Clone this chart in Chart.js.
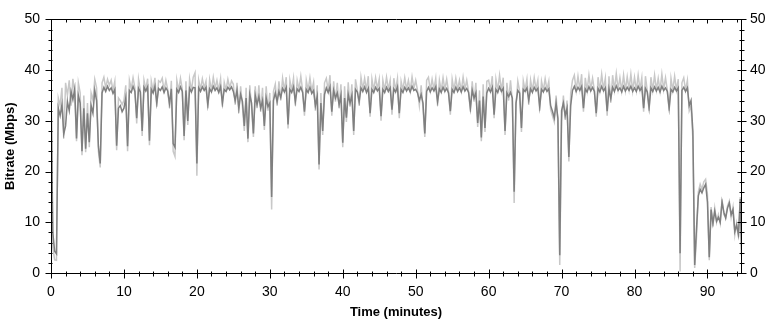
<!DOCTYPE html>
<html lang="en">
<head>
<meta charset="UTF-8">
<title>Bitrate over time</title>
<style>
    body { margin: 0; background: #fff; }
    #chart { display: block; }
</style>
<script src="https://cdn.jsdelivr.net/npm/chart.js"></script>
</head>
<body>
<canvas id="chart" width="771" height="320"></canvas>
<script>
// capture samples every quarter minute
const sampleStep = 0.25;

// average bitrate per sample (dark trace), Mbps - one row = 5 minutes
const bitrateAvg = [
    36.0, 7.9, 4.3, 3.8, 32.5, 31.0, 33.2, 27.4, 29.0, 33.8, 32.0, 35.8, 34.2, 36.3, 26.5, 35.0, 33.5, 24.0, 32.5, 24.5,
    31.5, 25.8, 33.0, 31.5, 36.0, 34.0, 25.0, 21.6, 35.5, 36.6, 35.8, 36.8, 36.0, 36.5, 35.4, 36.2, 25.1, 32.5, 33.0, 31.8,
    32.5, 34.5, 25.0, 36.0, 35.6, 36.8, 35.8, 30.5, 36.4, 35.7, 28.0, 36.6, 35.9, 36.7, 26.1, 36.2, 35.5, 36.8, 33.5, 36.4,
    36.0, 36.7, 35.6, 36.5, 35.9, 33.4, 36.3, 25.5, 24.8, 36.2, 35.6, 36.7, 35.8, 27.0, 36.0, 30.0, 36.4, 35.7, 36.6, 36.5,
    21.6, 36.5, 35.8, 36.7, 36.0, 36.6, 33.2, 36.3, 35.7, 36.8, 36.0, 36.5, 35.6, 36.7, 33.5, 36.2, 35.8, 36.6, 36.1, 36.7,
    35.8, 34.0, 36.0, 32.5, 35.2, 33.8, 29.0, 34.5, 26.5, 35.2, 33.5, 27.5, 35.0, 33.2, 34.8, 32.5, 34.0, 29.0, 34.5, 32.8,
    33.5, 15.0, 34.0, 35.5, 33.8, 35.8, 34.6, 36.4, 35.7, 36.6, 29.3, 36.2, 35.6, 36.7, 33.8, 36.3, 35.8, 36.6, 35.6, 31.8,
    36.2, 35.6, 36.6, 35.4, 36.0, 33.0, 34.8, 21.4, 33.5, 28.0, 35.2, 36.5, 35.6, 36.7, 31.8, 36.0, 34.5, 35.5, 33.2, 35.0,
    25.7, 34.5, 30.6, 35.2, 33.5, 35.0, 28.0, 36.2, 35.7, 33.8, 36.5, 35.8, 36.7, 35.6, 36.4, 31.5, 36.2, 35.6, 36.6, 35.9,
    36.4, 30.9, 36.2, 35.6, 36.6, 35.8, 36.5, 32.2, 36.3, 35.7, 36.7, 31.5, 36.2, 35.6, 36.6, 35.9, 36.5, 35.7, 36.8, 36.0,
    36.2, 35.5, 34.0, 35.2, 33.5, 27.5, 35.8, 36.6, 35.7, 36.5, 35.9, 36.7, 33.8, 36.3, 35.6, 36.6, 35.8, 36.4, 35.5, 31.9,
    36.2, 35.6, 36.6, 35.8, 36.5, 35.7, 36.7, 35.9, 36.4, 35.6, 32.5, 36.0, 34.5, 35.5, 29.6, 34.0, 26.7, 34.8, 28.6, 35.5,
    36.4, 35.7, 36.6, 31.2, 36.2, 35.6, 36.7, 35.8, 36.4, 28.0, 35.5, 34.8, 35.6, 34.5, 16.0, 33.5, 36.0, 35.5, 28.6, 36.2,
    35.8, 36.5, 34.1, 36.3, 35.6, 36.6, 35.9, 36.4, 32.8, 36.2, 35.7, 36.5, 35.8, 36.3, 33.0, 31.9, 30.6, 33.5, 30.5, 3.5,
    32.0, 33.5, 31.0, 32.5, 22.9, 33.0, 36.0, 36.8, 35.8, 36.6, 36.0, 36.8, 32.5, 36.3, 35.7, 36.7, 35.9, 36.6, 35.8, 31.5,
    36.4, 35.7, 36.8, 35.9, 36.5, 31.9, 36.3, 34.4, 36.6, 35.8, 36.9, 36.0, 36.5, 35.7, 36.8, 35.9, 36.6, 36.0, 36.8, 35.8,
    36.5, 35.8, 36.8, 36.0, 36.6, 32.5, 36.4, 35.7, 32.6, 36.5, 35.8, 36.7, 35.9, 36.6, 35.7, 36.8, 36.0, 36.5, 35.8, 32.5,
    36.2, 35.7, 36.6, 35.9, 36.5, 3.9, 36.0, 36.6, 35.8, 36.5, 33.0, 34.0, 28.0, 1.6, 8.8, 15.2, 16.5, 15.8, 16.8, 17.5,
    14.0, 3.1, 12.5, 9.8, 12.2, 10.2, 11.0, 10.0, 14.0, 12.0, 10.8, 12.8, 13.8, 11.5, 12.5, 8.2, 9.5, 7.6, 14.6, 0.5
];

// peak bitrate per sample (light trace), Mbps
const bitratePeak = [
    37.0, 5.0, 2.6, 2.5, 34.5, 33.0, 36.5, 26.5, 37.5, 35.0, 38.0, 33.0, 38.3, 35.5, 26.0, 37.5, 35.5, 23.2, 35.0, 23.8,
    33.5, 24.8, 35.5, 34.0, 38.2, 36.5, 24.0, 20.8, 37.5, 38.6, 36.5, 38.2, 37.0, 38.0, 36.0, 37.8, 24.2, 34.5, 34.0, 33.2,
    34.0, 37.0, 24.0, 38.0, 36.3, 38.5, 36.5, 29.5, 38.2, 36.0, 27.0, 38.0, 36.2, 38.3, 25.2, 37.8, 35.8, 38.5, 32.8, 37.9,
    37.6, 38.4, 36.0, 38.0, 36.2, 32.5, 37.9, 24.0, 23.0, 38.0, 36.0, 38.4, 36.2, 26.2, 37.8, 29.2, 38.2, 36.0, 38.6, 39.5,
    19.2, 38.0, 36.2, 38.3, 36.5, 37.8, 32.5, 38.1, 36.0, 38.6, 36.4, 38.0, 36.0, 38.3, 32.8, 37.6, 36.1, 38.2, 36.5, 37.9,
    37.2, 33.2, 37.5, 31.5, 36.8, 32.8, 28.0, 36.5, 25.8, 37.0, 32.6, 26.8, 36.8, 32.5, 37.0, 31.8, 36.5, 28.2, 36.8, 32.0,
    35.5, 12.5, 35.8, 37.2, 33.0, 37.8, 34.0, 38.4, 36.0, 38.6, 28.5, 38.0, 36.0, 38.4, 33.0, 38.0, 36.2, 38.8, 36.0, 31.0,
    38.0, 36.0, 38.5, 35.8, 37.6, 32.0, 37.0, 20.4, 35.5, 27.2, 37.5, 38.4, 36.0, 39.0, 31.0, 37.8, 33.8, 37.5, 32.5, 37.2,
    24.8, 36.8, 29.8, 37.6, 32.8, 37.2, 27.2, 38.2, 36.0, 33.0, 38.6, 36.2, 38.4, 36.0, 38.8, 30.8, 38.2, 36.0, 38.5, 36.3,
    38.2, 30.0, 38.0, 36.0, 38.6, 36.2, 38.0, 31.2, 38.4, 36.0, 38.3, 30.5, 37.8, 36.1, 38.5, 36.2, 38.0, 35.9, 38.7, 36.4,
    38.0, 36.0, 33.0, 37.0, 32.5, 26.8, 38.0, 38.6, 36.0, 38.2, 36.2, 38.4, 33.0, 38.0, 35.9, 38.5, 36.1, 38.2, 35.8, 31.2,
    38.2, 36.0, 38.4, 36.1, 38.0, 35.9, 38.6, 36.2, 38.0, 35.8, 31.8, 37.8, 33.8, 37.5, 28.8, 36.0, 26.0, 37.2, 27.8, 37.8,
    38.0, 36.0, 38.8, 30.5, 38.2, 36.0, 39.0, 36.0, 38.5, 27.2, 37.5, 34.0, 38.0, 33.8, 13.8, 33.0, 37.8, 35.8, 27.8, 37.9,
    36.0, 38.2, 33.2, 38.0, 35.9, 38.5, 36.2, 38.0, 32.0, 37.8, 36.0, 38.3, 36.1, 37.8, 32.2, 31.0, 29.8, 35.0, 29.5, 1.6,
    30.0, 35.0, 30.2, 34.0, 22.0, 35.5, 38.0, 39.0, 36.0, 38.8, 36.2, 39.2, 31.8, 38.5, 35.9, 39.0, 36.2, 38.4, 36.0, 30.8,
    38.6, 36.0, 39.2, 36.2, 38.4, 31.0, 38.8, 33.6, 39.0, 36.1, 39.3, 36.2, 38.5, 35.9, 39.0, 36.0, 38.7, 36.2, 39.2, 35.9,
    38.6, 36.0, 39.0, 36.2, 38.5, 31.8, 38.8, 35.8, 32.0, 38.6, 36.0, 39.0, 36.1, 38.4, 35.9, 39.2, 36.2, 38.5, 36.0, 32.0,
    38.4, 36.0, 38.8, 36.1, 38.2, 0.3, 37.5, 38.5, 36.0, 38.0, 32.0, 33.0, 26.5, 1.0, 7.0, 16.0, 17.5, 16.5, 18.0, 18.5,
    15.5, 2.5, 13.0, 9.2, 12.8, 10.0, 11.5, 9.8, 14.5, 11.5, 11.0, 13.2, 14.2, 11.0, 13.0, 7.5, 9.8, 7.0, 15.0, 0.2
];

const timeTicks = [0, 10, 20, 30, 40, 50, 60, 70, 80, 90];
const rateTicks = [0, 10, 20, 30, 40, 50];
const timeMax = 94.6;

const toPoints = arr => arr.map((v, i) => ({ x: i * sampleStep, y: v }));

const tickFont = { family: "'Liberation Sans', Arial, sans-serif", size: 14 };
const titleFont = { family: "'Liberation Sans', Arial, sans-serif", size: 13, weight: 'bold' };

// frame + major/minor tick marks (chart.js has no minor ticks on linear scales)
const frameTicks = {
    id: 'frameTicks',
    afterDraw(chart) {
        const { ctx, chartArea: a, scales } = chart;
        const L = Math.round(a.left) + 0.5, R = Math.round(a.right) + 0.5;
        const T = Math.round(a.top) + 0.5, B = Math.round(a.bottom) + 0.5;
        ctx.save();
        ctx.strokeStyle = '#000';
        ctx.lineWidth = 1;
        ctx.beginPath();
        ctx.moveTo(L, T); ctx.lineTo(R, T); ctx.lineTo(R, B); ctx.lineTo(L, B); ctx.closePath();
        for (let v = 0; v <= timeMax; v += 2) {
            const px = Math.round(scales.x.getPixelForValue(v)) + 0.5;
            const major = v % 10 === 0;
            ctx.moveTo(px, B - (major ? 4 : 2)); ctx.lineTo(px, B + (major ? 5 : 3));
            ctx.moveTo(px, T); ctx.lineTo(px, T + (major ? 4 : 3));
        }
        for (let v = 0; v <= 50; v += 2) {
            const py = Math.round(scales.y.getPixelForValue(v)) + 0.5;
            const major = v % 10 === 0;
            ctx.moveTo(L - (major ? 6 : 3), py); ctx.lineTo(L + 1, py);
            ctx.moveTo(R - (major ? 4 : 2), py); ctx.lineTo(R + (major ? 5 : 3), py);
        }
        ctx.stroke();
        ctx.restore();
    }
};

const noGrid = { display: false, drawTicks: false };

new Chart(document.getElementById('chart'), {
    type: 'line',
    data: {
        datasets: [
            {
                label: 'Average',
                data: toPoints(bitrateAvg),
                borderColor: '#7f7f7f',
                borderWidth: 1.5,
                pointRadius: 0,
                tension: 0,
                fill: false
            },
            {
                label: 'Peak',
                data: toPoints(bitratePeak),
                borderColor: '#c8c8c8',
                borderWidth: 1.5,
                pointRadius: 0,
                tension: 0,
                fill: false
            }
        ]
    },
    options: {
        responsive: false,
        devicePixelRatio: 1,
        animation: false,
        layout: { padding: { top: 12, left: 0, right: 0, bottom: 0 } },
        plugins: { legend: { display: false }, tooltip: { enabled: false } },
        scales: {
            x: {
                type: 'linear',
                position: 'bottom',
                min: 0,
                max: timeMax,
                afterBuildTicks: s => { s.ticks = timeTicks.map(v => ({ value: v })); },
                afterFit: s => { s.height = 47; },
                grid: noGrid,
                border: { display: false },
                ticks: { color: '#000', font: tickFont, padding: 11, maxRotation: 0, autoSkip: false },
                title: { display: true, text: 'Time (minutes)', color: '#000', font: titleFont, padding: { top: 0, bottom: 0 } }
            },
            y: {
                position: 'left',
                min: 0,
                max: 50,
                afterBuildTicks: s => { s.ticks = rateTicks.map(v => ({ value: v })); },
                afterFit: s => { s.width = 51; },
                grid: noGrid,
                border: { display: false },
                ticks: { color: '#000', font: tickFont, padding: 11 },
                title: { display: true, text: 'Bitrate (Mbps)', color: '#000', font: titleFont, padding: { top: 3, bottom: 0 } }
            },
            y2: {
                position: 'right',
                min: 0,
                max: 50,
                afterBuildTicks: s => { s.ticks = rateTicks.map(v => ({ value: v })); },
                afterFit: s => { s.width = 30; },
                grid: noGrid,
                border: { display: false },
                ticks: { color: '#000', font: tickFont, padding: 9 }
            }
        }
    },
    plugins: [frameTicks]
});
</script>
</body>
</html>
